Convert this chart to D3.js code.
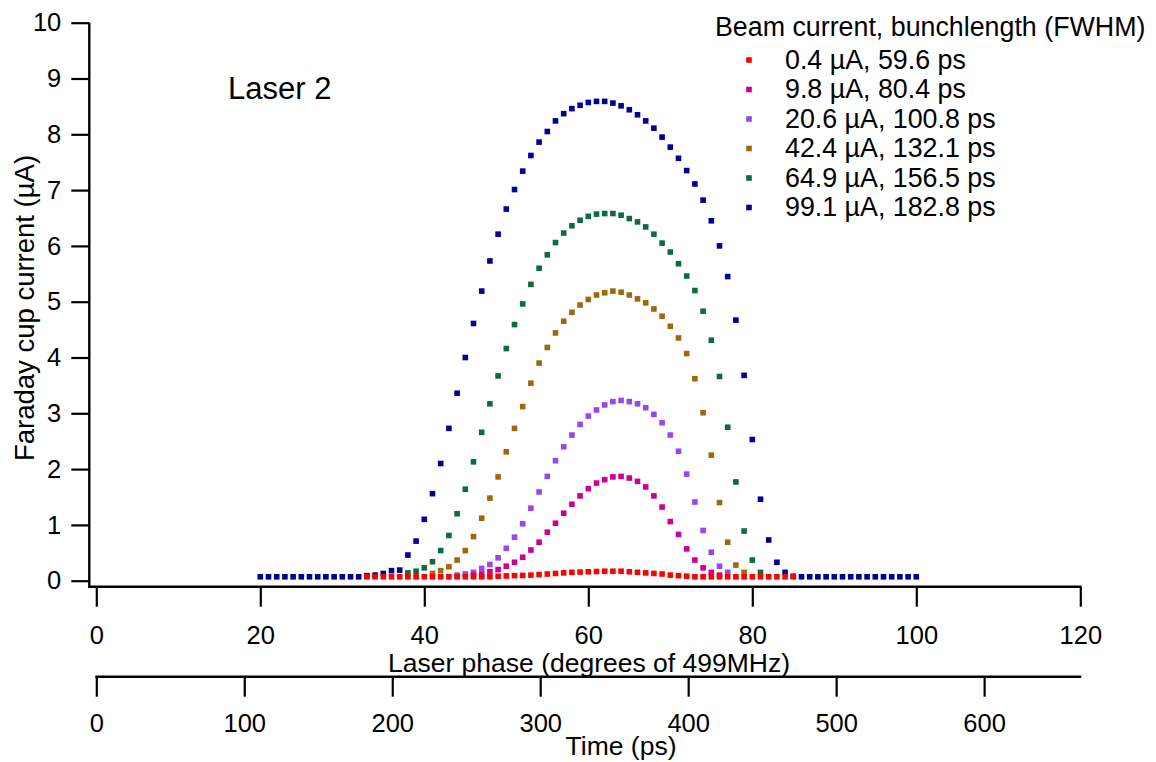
<!DOCTYPE html>
<html>
<head>
<meta charset="utf-8">
<script src="https://cdn.jsdelivr.net/npm/d3@7"></script>
<style>
  html, body { margin: 0; padding: 0; background: #fff; }
  svg { display: block; }
  text { font-family: "Liberation Sans", Arial, sans-serif; fill: #000; }
</style>
</head>
<body>
<svg id="chart" width="1156" height="762"></svg>
<script>
// ---------------- data ----------------
const phaseTicks = [0, 20, 40, 60, 80, 100, 120];
const timeTicks = [0, 100, 200, 300, 400, 500, 600];
const currentTicks = [0, 1, 2, 3, 4, 5, 6, 7, 8, 9, 10];

const seriesNames = [
  "0.4 \u00b5A, 59.6 ps",
  "9.8 \u00b5A, 80.4 ps",
  "20.6 \u00b5A, 100.8 ps",
  "42.4 \u00b5A, 132.1 ps",
  "64.9 \u00b5A, 156.5 ps",
  "99.1 \u00b5A, 182.8 ps"
];
const seriesColors = ["#ff0000", "#cc0099", "#9a45ee", "#9c6a0c", "#0f6b3c", "#000096"];

// first phase (degrees) of each series, one point per degree
const seriesStart = [33, 46, 44, 41, 38, 20];

const red04 = [0.07,0.07,0.07,0.07,0.07,0.07,0.07,0.07,0.07,0.07,0.07,0.07,0.07,0.07,0.07,0.07,
  0.08,0.085,0.09,0.095,0.10,0.11,0.12,0.13,0.14,0.15,0.155,0.16,0.165,0.17,0.17,0.17,0.16,0.15,
  0.14,0.13,0.12,0.10,0.09,0.08,0.07,0.07,0.07,0.07,0.07,0.07,0.07,0.07,0.07,0.07,0.07,0.07,0.07];
const magenta98 = [0.10,0.12,0.16,0.20,0.26,0.33,0.42,0.55,0.69,0.87,1.03,1.21,1.37,1.52,1.65,1.75,
  1.81,1.86,1.87,1.84,1.78,1.68,1.52,1.32,1.06,0.83,0.57,0.37,0.23,0.15,0.10];
const purple206 = [0.10,0.12,0.15,0.22,0.29,0.41,0.58,0.78,1.02,1.30,1.59,1.87,2.15,2.40,2.61,2.80,
  2.95,3.06,3.15,3.21,3.23,3.21,3.17,3.10,2.98,2.83,2.61,2.32,1.91,1.41,0.90,0.51,0.26,0.15];
const brown424 = [0.13,0.18,0.25,0.37,0.54,0.79,1.12,1.48,1.86,2.31,2.73,3.12,3.54,3.90,4.18,4.44,
  4.65,4.81,4.94,5.04,5.12,5.16,5.19,5.17,5.12,5.05,4.98,4.87,4.74,4.56,4.35,4.07,3.62,3.01,2.25,
  1.40,0.69,0.28,0.15];
const green649 = [0.14,0.17,0.23,0.34,0.54,0.81,1.20,1.64,2.13,2.66,3.17,3.67,4.16,4.59,4.96,5.31,
  5.60,5.84,6.06,6.23,6.36,6.46,6.53,6.57,6.58,6.58,6.55,6.49,6.43,6.34,6.21,6.05,5.89,5.68,5.46,
  5.20,4.83,4.31,3.66,2.75,1.77,0.89,0.37,0.15];
const blue991 = [0.07,0.07,0.07,0.07,0.07,0.07,0.07,0.07,0.07,0.07,0.07,0.07,0.07,0.09,0.10,0.13,
  0.18,0.19,0.46,0.71,1.10,1.56,2.10,2.73,3.36,4.00,4.61,5.19,5.73,6.21,6.66,7.01,7.34,7.62,7.86,
  8.05,8.24,8.37,8.46,8.52,8.57,8.59,8.59,8.56,8.51,8.44,8.35,8.24,8.11,7.95,7.77,7.57,7.35,7.11,
  6.82,6.45,6.00,5.45,4.67,3.68,2.53,1.46,0.73,0.33,0.15,0.08,0.07,0.07,0.07,0.07,0.07,0.07,0.07,
  0.07,0.07,0.07,0.07,0.07,0.07,0.07,0.07];

const seriesValues = [red04, magenta98, purple206, brown424, green649, blue991];

// ---------------- drawing ----------------
const svg = d3.select("#chart");
const TICK_FONT = 25.5;
const TITLE_FONT = 26.5;
const LEGEND_FONT = 26.8;

const x = d3.scaleLinear().domain([0, 120]).range([96.3, 1080.3]);
const xTime = d3.scaleLinear().domain([0, 665]).range([96.3, 1080.3]);
const y = d3.scaleLinear().domain([0, 10]).range([580.7, 22.7]);

const axisY0 = 586.7;   // phase axis line
const axisX0 = 89.3;    // current axis line
const timeAxisY = 676.7;

function styleAxis(g) {
  g.select(".domain").remove();
  g.selectAll(".tick line").attr("stroke", "#000").attr("stroke-width", 2.2);
  g.selectAll(".tick text").attr("font-size", TICK_FONT)
    .attr("font-family", "Liberation Sans, Arial, sans-serif").attr("fill", "#000");
}

// Y axis
const yAxis = d3.axisLeft(y).tickValues(currentTicks).tickSize(18).tickPadding(10)
  .tickFormat(d3.format("d"));
svg.append("g").attr("transform", `translate(${axisX0},0)`).call(yAxis).call(styleAxis);
svg.append("line").attr("x1", axisX0).attr("x2", axisX0).attr("y1", y(10)).attr("y2", axisY0 + 1)
  .attr("stroke", "#000").attr("stroke-width", 2.4);

// X (phase) axis
const xAxis = d3.axisBottom(x).tickValues(phaseTicks).tickSize(20).tickPadding(19)
  .tickFormat(d3.format("d"));
svg.append("g").attr("transform", `translate(0,${axisY0})`).call(xAxis).call(styleAxis);
svg.append("line").attr("x1", axisX0 - 1).attr("x2", x(120) + 1).attr("y1", axisY0).attr("y2", axisY0)
  .attr("stroke", "#000").attr("stroke-width", 2.4);

// Time axis
const tAxis = d3.axisBottom(xTime).tickValues(timeTicks).tickSize(20).tickPadding(17)
  .tickFormat(d3.format("d"));
svg.append("g").attr("transform", `translate(0,${timeAxisY})`).call(tAxis).call(styleAxis);
svg.append("line").attr("x1", xTime(0) - 1).attr("x2", x(120) + 1).attr("y1", timeAxisY).attr("y2", timeAxisY)
  .attr("stroke", "#000").attr("stroke-width", 2.4);

// Axis titles
svg.append("text").attr("x", 589).attr("y", 671.5).attr("text-anchor", "middle")
  .attr("font-size", TITLE_FONT).text("Laser phase (degrees of 499MHz)");
svg.append("text").attr("x", 621).attr("y", 755).attr("text-anchor", "middle")
  .attr("font-size", TITLE_FONT).text("Time (ps)");
svg.append("text").attr("transform", "translate(34,308) rotate(-90)").attr("text-anchor", "middle")
  .attr("font-size", 27.5).text("Faraday cup current (\u00b5A)");

// Annotation
svg.append("text").attr("x", 228).attr("y", 98.5).attr("font-size", 31).text("Laser 2");

// Data points (blue first, red on top)
const MS = 5.6;
const order = [5, 4, 3, 2, 1, 0];
order.forEach(si => {
  const pts = seriesValues[si].map((v, i) => ({ p: seriesStart[si] + i, v }));
  svg.append("g").selectAll("rect").data(pts).join("rect")
    .attr("x", d => x(d.p) - MS / 2)
    .attr("y", d => y(d.v) - MS / 2)
    .attr("width", MS).attr("height", MS)
    .attr("fill", seriesColors[si]);
});

// Legend
svg.append("text").attr("x", 715).attr("y", 36).attr("font-size", LEGEND_FONT)
  .text("Beam current, bunchlength (FWHM)");
const legY = d3.scaleLinear().domain([0, 5]).range([60, 207.5]);
const lg = svg.append("g");
seriesNames.forEach((name, i) => {
  lg.append("rect").attr("x", 749 - MS / 2).attr("y", legY(i) - MS / 2)
    .attr("width", MS).attr("height", MS).attr("fill", seriesColors[i]);
  lg.append("text").attr("x", 785).attr("y", legY(i) + 8.5).attr("font-size", LEGEND_FONT).text(name);
});
</script>
</body>
</html>
